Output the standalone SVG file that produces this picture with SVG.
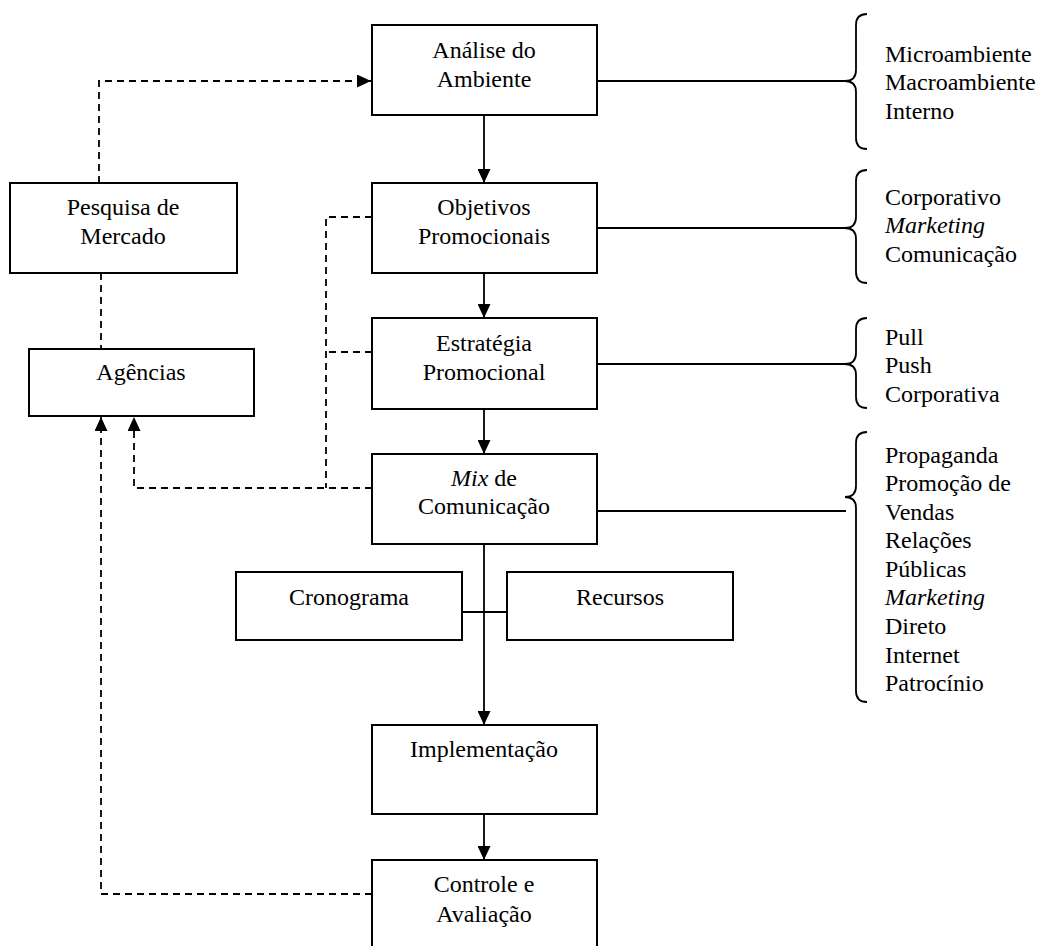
<svg xmlns="http://www.w3.org/2000/svg" width="1044" height="946" viewBox="0 0 1044 946">
<style>
  .box{fill:#fff;stroke:#000;stroke-width:2}
  .t{font-family:'Liberation Serif','Times New Roman',Tinos,'DejaVu Serif',serif;font-size:24px;fill:#000}
  .c{text-anchor:middle}
  .ln{fill:none;stroke:#000;stroke-width:1.8}
  .dash{fill:none;stroke:#000;stroke-width:1.8;stroke-dasharray:7 5}
  .br{fill:none;stroke:#000;stroke-width:1.8}
  .i{font-style:italic}
</style>
<defs>
  <marker id="ah" viewBox="0 0 14 13" refX="14" refY="6.5" markerWidth="14" markerHeight="13" markerUnits="userSpaceOnUse" orient="auto">
    <path d="M0,0 L14,6.5 L0,13 Z" fill="#000"/>
  </marker>
</defs>
<rect width="1044" height="946" fill="#fff"/>

<g id="connectors">
  <line class="ln" x1="484" y1="115" x2="484" y2="183" marker-end="url(#ah)"/>
  <line class="ln" x1="484" y1="273" x2="484" y2="318" marker-end="url(#ah)"/>
  <line class="ln" x1="484" y1="409" x2="484" y2="454" marker-end="url(#ah)"/>
  <line class="ln" x1="484" y1="544" x2="484" y2="725" marker-end="url(#ah)"/>
  <line class="ln" x1="484" y1="814" x2="484" y2="860" marker-end="url(#ah)"/>
  <line class="ln" x1="462" y1="612" x2="507" y2="612"/>
  <line class="ln" x1="597" y1="81" x2="846" y2="81"/>
  <line class="ln" x1="597" y1="228" x2="846" y2="228"/>
  <line class="ln" x1="597" y1="364" x2="846" y2="364"/>
  <line class="ln" x1="597" y1="511" x2="846" y2="511"/>
  <polyline class="dash" points="99,183 99,81 371,81" marker-end="url(#ah)"/>
  <line class="dash" x1="101" y1="273" x2="101" y2="349"/>
  <polyline class="dash" points="372,217 326,217 326,488"/>
  <line class="dash" x1="372" y1="352" x2="326" y2="352"/>
  <polyline class="dash" points="372,488 134,488 134,417" marker-end="url(#ah)"/>
  <polyline class="dash" points="372,894 101,894 101,417" marker-end="url(#ah)"/>
</g>

<g id="braces">
  <path class="br" d="M867,14 Q856,14 856,25 L856,70 Q856,81 845,81 Q856,81 856,92 L856,138 Q856,149 867,149"/>
  <path class="br" d="M867,170 Q856,170 856,181 L856,217 Q856,228 845,228 Q856,228 856,239 L856,272 Q856,283 867,283"/>
  <path class="br" d="M867,318 Q856,318 856,329 L856,353 Q856,364 845,364 Q856,364 856,375 L856,397 Q856,408 867,408"/>
  <path class="br" d="M867,432 Q856,432 856,443 L856,486 Q856,497 845,497 Q856,497 856,508 L856,691 Q856,702 867,702"/>
</g>

<g id="analise">
  <rect class="box" x="372" y="25" width="225" height="90"/>
  <text class="t c" x="484" y="58">Análise do</text>
  <text class="t c" x="484" y="87">Ambiente</text>
</g>
<g id="objetivos">
  <rect class="box" x="372" y="183" width="225" height="90"/>
  <text class="t c" x="484" y="215">Objetivos</text>
  <text class="t c" x="484" y="244">Promocionais</text>
</g>
<g id="estrategia">
  <rect class="box" x="372" y="318" width="225" height="91"/>
  <text class="t c" x="484" y="351">Estratégia</text>
  <text class="t c" x="484" y="380">Promocional</text>
</g>
<g id="mix">
  <rect class="box" x="372" y="454" width="225" height="90"/>
  <text class="t c" x="484" y="486"><tspan class="i">Mix</tspan> de</text>
  <text class="t c" x="484" y="514">Comunicação</text>
</g>
<g id="cronograma">
  <rect class="box" x="236" y="572" width="226" height="68"/>
  <text class="t c" x="349" y="605">Cronograma</text>
</g>
<g id="recursos">
  <rect class="box" x="507" y="572" width="226" height="68"/>
  <text class="t c" x="620" y="605">Recursos</text>
</g>
<g id="implementacao">
  <rect class="box" x="372" y="725" width="225" height="89"/>
  <text class="t c" x="484" y="757">Implementação</text>
</g>
<g id="controle">
  <rect class="box" x="372" y="860" width="225" height="100"/>
  <text class="t c" x="484" y="892">Controle e</text>
  <text class="t c" x="484" y="922">Avaliação</text>
</g>
<g id="pesquisa">
  <rect class="box" x="10" y="183" width="227" height="90"/>
  <text class="t c" x="123" y="215">Pesquisa de</text>
  <text class="t c" x="123" y="244">Mercado</text>
</g>
<g id="agencias">
  <rect class="box" x="29" y="349" width="225" height="67"/>
  <text class="t c" x="141" y="380">Agências</text>
</g>

<g id="ambiente-itens">
  <text class="t" x="885" y="62">Microambiente</text>
  <text class="t" x="885" y="90">Macroambiente</text>
  <text class="t" x="885" y="119">Interno</text>
</g>
<g id="objetivos-itens">
  <text class="t" x="885" y="205">Corporativo</text>
  <text class="t i" x="885" y="233">Marketing</text>
  <text class="t" x="885" y="262">Comunicação</text>
</g>
<g id="estrategia-itens">
  <text class="t" x="885" y="345">Pull</text>
  <text class="t" x="885" y="373">Push</text>
  <text class="t" x="885" y="402">Corporativa</text>
</g>
<g id="mix-itens">
  <text class="t" x="885" y="463">Propaganda</text>
  <text class="t" x="885" y="491">Promoção de</text>
  <text class="t" x="885" y="520">Vendas</text>
  <text class="t" x="885" y="548">Relações</text>
  <text class="t" x="885" y="577">Públicas</text>
  <text class="t i" x="885" y="605">Marketing</text>
  <text class="t" x="885" y="634">Direto</text>
  <text class="t" x="885" y="663">Internet</text>
  <text class="t" x="885" y="691">Patrocínio</text>
</g>
</svg>
